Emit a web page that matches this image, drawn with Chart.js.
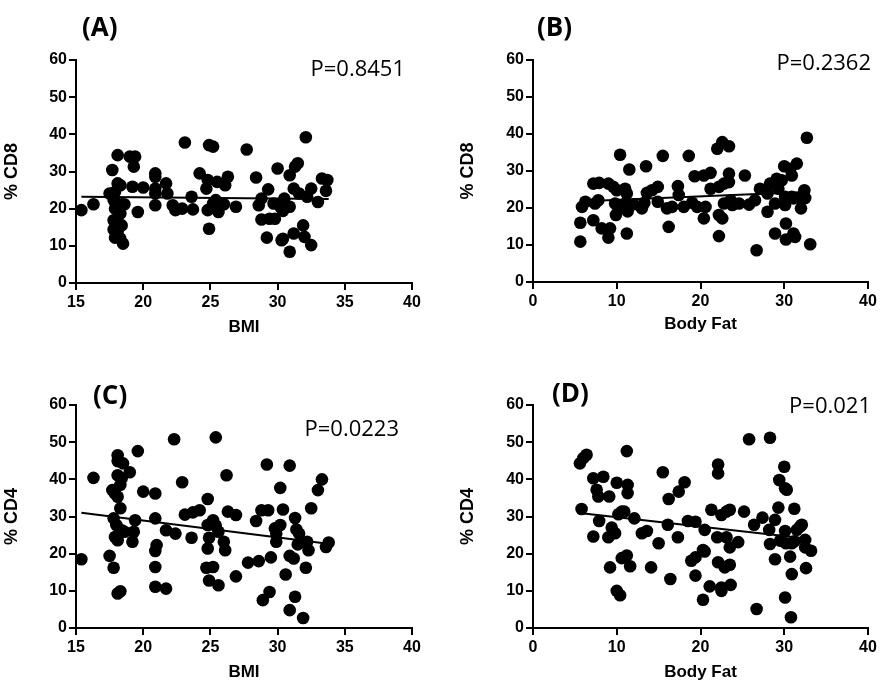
<!DOCTYPE html>
<html>
<head>
<meta charset="utf-8">
<script src="https://cdn.jsdelivr.net/npm/chart.js@4.4.0/dist/chart.umd.min.js"></script>
<style>
  body { margin: 0; background: #fff; }
  #wrap { position: relative; width: 891px; height: 689px; }
  .panel { position: absolute; }
</style>
</head>
<body>
<div id="wrap">
  <div class="panel" style="left:0;top:0"><canvas id="chartA" width="445" height="345"></canvas></div>
  <div class="panel" style="left:445px;top:0"><canvas id="chartB" width="446" height="345"></canvas></div>
  <div class="panel" style="left:0;top:345px"><canvas id="chartC" width="445" height="344"></canvas></div>
  <div class="panel" style="left:445px;top:345px"><canvas id="chartD" width="446" height="344"></canvas></div>
</div>
<script>
// (A) BMI vs % CD8
var bmiA = [
  15.4, 16.3, 17.7, 18.1, 17.5, 17.9, 18.1, 18.3, 17.8, 18.0,
  18.4, 17.9, 18.3, 17.8, 18.1, 18.4, 17.8, 18.1, 17.9, 18.3,
  18.5, 18.6, 19.0, 19.4, 19.3, 19.2, 19.6, 20.0, 20.9, 20.9,
  20.9, 20.9, 20.9, 21.7, 21.8, 22.2, 22.4, 22.9, 23.1, 23.6,
  23.7, 24.2, 24.7, 24.9, 25.2, 24.8, 24.9, 24.8, 25.2, 25.4,
  25.5, 25.6, 26.1, 26.3, 26.0, 26.9, 27.7, 28.4, 28.6, 28.8,
  28.8, 29.3, 29.2, 29.4, 29.7, 29.8, 30.0, 30.2, 30.3, 30.4,
  30.5, 30.4, 30.9, 30.9, 30.9, 31.2, 31.3, 31.5, 31.2, 31.6,
  31.9, 32.0, 32.1, 32.2, 32.5, 32.5, 33.0, 33.3, 33.7, 33.6
];
var cd8A = [
  19.6, 21.2, 30.4, 34.4, 24.1, 24.5, 26.8, 26.3, 22.3, 21.4,
  21.2, 20.0, 18.7, 16.9, 16.4, 15.5, 14.4, 13.7, 12.2, 11.9,
  10.6, 21.2, 34.0, 34.0, 31.3, 25.9, 19.1, 25.7, 29.5, 28.6,
  25.4, 24.1, 20.9, 26.8, 24.1, 20.9, 19.6, 20.0, 37.8, 23.2,
  19.8, 29.5, 25.4, 37.1, 36.7, 27.7, 14.6, 19.6, 21.4, 22.3,
  27.2, 19.1, 26.3, 28.6, 21.2, 20.5, 35.9, 28.4, 20.9, 22.7,
  17.1, 25.2, 12.2, 17.3, 21.4, 17.3, 30.8, 20.5, 11.5, 19.4,
  22.7, 11.9, 20.5, 8.4, 29.0, 13.3, 31.3, 32.2, 25.4, 24.1,
  15.5, 12.4, 39.2, 23.2, 25.4, 10.2, 21.8, 28.1, 27.7, 24.8
];
var trendXA = [15.4, 33.8];
var trendYA = [23.2, 22.6];

// (B) Body Fat vs % CD8
var fatB = [
  5.65, 5.65, 5.85, 6.25, 7.2, 7.9, 7.2, 7.4, 7.8, 8.2,
  9.2, 9.0, 9.0, 9.6, 10.0, 9.8, 9.9, 10.2, 10.4, 11.0,
  11.2, 11.0, 11.3, 11.2, 11.5, 12.0, 13.0, 13.3, 13.5, 13.6,
  14.2, 14.9, 14.9, 15.5, 16.0, 16.2, 16.6, 17.3, 17.4, 18.0,
  18.6, 19.0, 19.3, 19.6, 20.4, 20.6, 20.4, 21.2, 21.2, 22.0,
  22.6, 23.4, 22.2, 22.8, 23.4, 23.4, 22.2, 22.6, 22.2, 22.8,
  23.6, 23.8, 24.6, 25.3, 25.8, 26.5, 26.7, 27.1, 28.0, 28.0,
  28.3, 28.9, 28.9, 29.1, 29.3, 29.7, 30.0, 30.1, 30.1, 30.2,
  30.2, 30.7, 30.9, 30.9, 31.1, 31.3, 31.1, 31.5, 31.9, 32.0,
  32.4, 32.5, 32.7, 33.1
];
var cd8B = [
  10.9, 16.0, 20.3, 21.7, 26.6, 26.8, 16.7, 21.2, 22.1, 14.5,
  14.5, 12.0, 26.6, 25.7, 24.8, 21.2, 18.1, 19.9, 34.4, 25.2,
  23.9, 21.2, 19.1, 13.1, 30.4, 21.0, 19.9, 21.4, 31.3, 24.1,
  24.8, 25.7, 21.7, 34.1, 19.9, 14.9, 20.3, 25.9, 23.5, 20.3,
  34.1, 21.4, 28.6, 20.3, 28.8, 20.3, 17.2, 29.5, 25.2, 36.0,
  37.8, 36.7, 25.7, 26.6, 29.3, 27.0, 18.1, 17.2, 12.4, 21.2,
  22.1, 20.8, 21.2, 28.8, 20.9, 22.1, 8.6, 25.2, 23.9, 19.0,
  26.6, 21.2, 13.1, 27.9, 25.2, 27.5, 31.3, 23.0, 20.8, 15.8,
  11.5, 30.6, 28.8, 23.0, 13.1, 12.2, 22.6, 32.0, 22.6, 19.9,
  24.8, 22.7, 39.0, 10.2
];
var trendXB = [8.2, 32.5];
var trendYB = [22.0, 24.3];

// (C) BMI vs % CD4
var bmiC = [
  15.4, 16.3, 17.5, 17.8, 17.7, 17.9, 18.1, 18.1, 18.5, 18.1,
  18.4, 18.3, 18.1, 18.3, 17.8, 18.0, 17.9, 18.1, 18.4, 18.6,
  18.1, 18.3, 19.0, 19.6, 19.4, 19.3, 19.2, 20.0, 20.9, 20.9,
  21.0, 20.9, 20.9, 20.9, 21.7, 21.7, 22.3, 22.4, 22.9, 23.1,
  23.6, 23.7, 24.2, 24.8, 24.9, 24.8, 24.7, 24.9, 25.2, 24.8,
  25.2, 25.4, 25.6, 25.4, 25.6, 26.2, 26.3, 26.0, 26.1, 26.9,
  26.9, 27.8, 28.4, 28.6, 28.9, 28.8, 29.3, 29.2, 29.4, 29.5,
  29.8, 29.9, 29.9, 30.2, 30.2, 30.4, 30.6, 30.9, 30.9, 30.9,
  31.2, 31.3, 31.3, 31.4, 31.6, 31.5, 31.9, 32.1, 32.2, 32.3,
  32.5, 33.0, 33.3, 33.6, 33.8
];
var cd4C = [
  18.5, 40.4, 19.4, 16.2, 37.1, 36.2, 46.5, 44.9, 44.3, 41.1,
  40.3, 38.5, 35.3, 32.2, 29.5, 27.7, 24.5, 23.6, 26.3, 25.9,
  9.3, 9.9, 41.9, 47.6, 29.0, 25.9, 23.2, 36.7, 36.2, 29.5,
  22.3, 20.7, 16.4, 11.1, 10.6, 26.3, 50.8, 25.4, 39.2, 30.5,
  24.3, 31.1, 31.7, 34.7, 24.3, 21.4, 16.2, 12.8, 16.4, 27.7,
  29.0, 27.5, 25.9, 51.3, 11.5, 41.1, 31.3, 23.2, 20.9, 30.4,
  13.9, 17.6, 28.8, 18.0, 7.5, 31.7, 31.7, 44.0, 9.7, 19.0,
  26.8, 25.4, 23.2, 27.7, 37.7, 31.9, 14.4, 4.8, 43.7, 19.4,
  18.7, 29.6, 8.4, 26.5, 25.4, 22.5, 2.7, 16.2, 23.2, 20.9,
  32.2, 37.1, 40.0, 21.8, 23.0
];
var trendXC = [15.4, 33.9];
var trendYC = [31.0, 22.6];

// (D) Body Fat vs % CD4
var fatD = [
  5.6, 6.0, 6.4, 5.8, 7.2, 8.4, 7.6, 7.8, 7.2, 7.9,
  9.1, 9.0, 9.4, 9.8, 9.2, 10.0, 10.0, 10.4, 10.2, 10.6,
  10.9, 10.6, 11.2, 11.3, 11.3, 11.2, 11.6, 12.1, 13.0, 13.6,
  14.1, 15.0, 15.5, 16.1, 16.2, 16.4, 17.3, 17.4, 18.1, 18.5,
  18.9, 19.4, 19.4, 19.4, 20.3, 20.5, 20.3, 20.5, 21.1, 21.3,
  22.1, 22.1, 22.0, 22.1, 22.5, 22.5, 22.5, 23.1, 23.5, 23.1,
  22.9, 23.5, 23.5, 23.6, 24.5, 25.2, 25.8, 26.4, 26.7, 27.4,
  28.2, 28.3, 28.3, 28.9, 28.9, 29.3, 29.4, 29.5, 30.0, 30.1,
  30.3, 30.1, 30.2, 30.1, 30.7, 30.8, 30.9, 30.9, 31.2, 31.2,
  31.5, 31.9, 32.1, 32.5, 32.5, 32.6, 33.2
];
var cd4D = [
  44.3, 45.7, 46.6, 32.0, 40.3, 40.7, 37.2, 35.4, 24.6, 28.8,
  35.4, 24.4, 27.0, 25.5, 16.3, 39.1, 10.0, 8.8, 30.6, 31.3,
  31.3, 18.8, 19.5, 38.5, 36.3, 47.6, 16.6, 29.5, 25.5, 26.1,
  16.3, 22.8, 41.9, 27.8, 34.7, 13.2, 24.4, 36.7, 39.2, 28.8,
  18.1, 19.0, 28.6, 14.1, 7.6, 26.4, 21.0, 20.6, 11.2, 31.8,
  44.0, 41.6, 24.4, 17.7, 10.9, 10.0, 30.4, 31.3, 31.8, 24.4,
  16.3, 17.0, 21.7, 11.6, 23.1, 31.3, 50.8, 27.8, 5.1, 29.7,
  26.4, 51.2, 22.6, 29.1, 18.5, 32.4, 39.8, 23.5, 43.4, 37.6,
  37.2, 26.1, 22.8, 8.2, 19.2, 2.9, 22.8, 14.5, 32.1, 23.3,
  26.4, 27.3, 27.8, 23.7, 21.7, 16.1, 20.8
];
var trendXD = [5.8, 32.9];
var trendYD = [30.9, 24.0];

var yTicks = [0, 10, 20, 30, 40, 50, 60];

Chart.defaults.font.family = "'Liberation Sans', Arial, sans-serif";
Chart.defaults.color = "#000";

function toPoints(xs, ys) {
  return xs.map(function (x, i) { return { x: x, y: ys[i] }; });
}

// panel letter and P value text
var panelText = {
  id: "panelText",
  afterDraw: function (chart, args, opts) {
    var ctx = chart.ctx;
    ctx.save();
    ctx.fillStyle = "#000";
    ctx.textBaseline = "middle";
    ctx.font = "bold 26px 'Open Sans', sans-serif";
    ctx.textAlign = "left";
    ctx.fillText(opts.label, opts.labelX, opts.labelY);
    ctx.font = "22px 'Open Sans', sans-serif";
    ctx.textAlign = "right";
    ctx.fillText(opts.pText, opts.pX, opts.pY);
    ctx.restore();
  }
};

function makePanel(id, cfg) {
  var ctx = document.getElementById(id).getContext("2d");
  return new Chart(ctx, {
    type: "scatter",
    data: {
      datasets: [
        {
          data: toPoints(cfg.xs, cfg.ys),
          backgroundColor: "#000",
          borderColor: "#000",
          borderWidth: 0,
          pointRadius: 6.3,
        },
        {
          data: toPoints(cfg.tx, cfg.ty),
          showLine: true,
          borderColor: "#000",
          borderWidth: 2,
          pointRadius: 0,
        },
      ],
    },
    options: {
      responsive: false,
      animation: false,
      layout: { padding: { top: 60, right: cfg.padRight, bottom: 0, left: 0 } },
      plugins: {
        legend: { display: false },
        tooltip: { enabled: false },
        panelText: cfg.text,
      },
      scales: {
        x: {
          type: "linear",
          min: cfg.xMin,
          max: 40,
          ticks: { stepSize: cfg.xStep, padding: 3, font: { size: 16, weight: "bold" } },
          grid: { drawOnChartArea: false, tickLength: 7, tickColor: "#000", lineWidth: 2 },
          border: { color: "#000", width: 2 },
          title: {
            display: true,
            text: cfg.xTitle,
            font: { size: 17, weight: "bold" },
            padding: { top: 4, bottom: cfg.xTitlePad },
          },
          afterFit: function (s) { s.height = cfg.xHeight; },
        },
        y: {
          min: 0,
          max: 60,
          afterBuildTicks: function (s) {
            s.ticks = yTicks.map(function (v) { return { value: v }; });
          },
          ticks: { padding: 2, font: { size: 16, weight: "bold" } },
          grid: { drawOnChartArea: false, tickLength: 7, tickColor: "#000", lineWidth: 2 },
          border: { color: "#000", width: 2 },
          title: {
            display: true,
            text: cfg.yTitle,
            font: { size: 18, weight: "bold" },
            padding: { top: cfg.yTitlePad, bottom: 0 },
          },
          afterFit: function (s) { s.width = cfg.yWidth; },
        },
      },
    },
    plugins: [panelText],
  });
}

makePanel("chartA", {
  xs: bmiA, ys: cd8A, tx: trendXA, ty: trendYA,
  xMin: 15, xStep: 5, xTitle: "BMI", yTitle: "% CD8",
  yWidth: 76, yTitlePad: 1, padRight: 33, xHeight: 62, xTitlePad: 7,
  text: { label: "(A)", labelX: 82, labelY: 29, pText: "P=0.8451", pX: 405, pY: 70 },
});
makePanel("chartB", {
  xs: fatB, ys: cd8B, tx: trendXB, ty: trendYB,
  xMin: 0, xStep: 10, xTitle: "Body Fat", yTitle: "% CD8",
  yWidth: 88, yTitlePad: 12, padRight: 23, xHeight: 63, xTitlePad: 10,
  text: { label: "(B)", labelX: 92, labelY: 29, pText: "P=0.2362", pX: 426, pY: 64 },
});
makePanel("chartC", {
  xs: bmiC, ys: cd4C, tx: trendXC, ty: trendYC,
  xMin: 15, xStep: 5, xTitle: "BMI", yTitle: "% CD4",
  yWidth: 76, yTitlePad: 1, padRight: 33, xHeight: 61, xTitlePad: 6,
  text: { label: "(C)", labelX: 93, labelY: 52, pText: "P=0.0223", pX: 399, pY: 85 },
});
makePanel("chartD", {
  xs: fatD, ys: cd4D, tx: trendXD, ty: trendYD,
  xMin: 0, xStep: 10, xTitle: "Body Fat", yTitle: "% CD4",
  yWidth: 88, yTitlePad: 12, padRight: 23, xHeight: 61, xTitlePad: 6,
  text: { label: "(D)", labelX: 107, labelY: 50, pText: "P=0.021", pX: 426, pY: 62 },
});
</script>
</body>
</html>
